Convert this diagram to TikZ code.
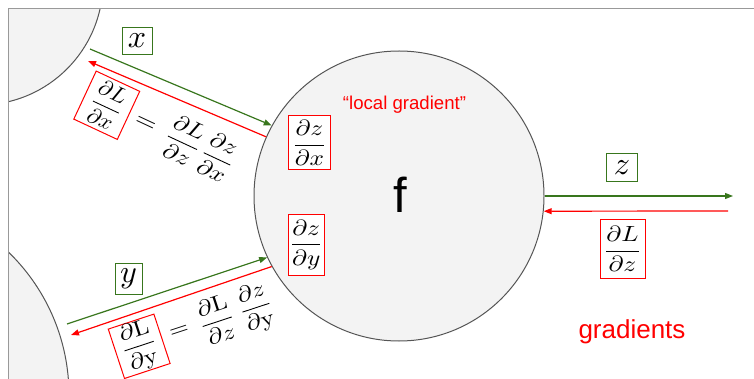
\documentclass[tikz,border=0pt]{standalone}
\usepackage{fontspec}
\newfontfamily\arial{Liberation Sans}
\usepackage{graphicx}
\usetikzlibrary{arrows.meta}
\definecolor{gr}{HTML}{38761D}
\definecolor{circfill}{HTML}{F3F3F3}
\definecolor{circline}{HTML}{555555}
\definecolor{framegray}{HTML}{999999}
% fraction scaled from 10pt: #1 = horizontal scale, #2 = vertical scale
\newcommand{\sfrac}[4]{\scalebox{#1}[#2]{$\displaystyle\frac{#3}{#4}$}}
\newcommand{\wfrac}[2]{\sfrac{2.53}{2.2}{#1}{#2}}
\newcommand{\nfrac}[2]{\sfrac{2.25}{2.2}{#1}{#2}}
\newcommand{\weq}[2]{\scalebox{#1}[#2]{$=$}}
\newcommand{\gl}[1]{\scalebox{3.2}{$#1$}}
\tikzset{
  circ/.style={circle, draw=circline, fill=circfill, line width=1pt, inner sep=0pt},
  redbox/.style={draw=red, fill=white, line width=1pt, inner sep=0pt},
  greenbox/.style={draw=gr, fill=white, line width=1pt, inner sep=0pt},
  fwd/.style={draw=gr, line width=1.2pt, -{Triangle[length=8pt,width=6pt]}},
  bwd/.style={draw=red, line width=1.2pt, -{Triangle[length=8pt,width=6pt]}},
  plain/.style={inner sep=0pt},
}
\begin{document}
\begin{tikzpicture}[x=1pt,y=-1pt]
\useasboundingbox (0,0) rectangle (754,379);
% partial neighbour circles, clipped to the frame
\begin{scope}
  \clip (8,9) rectangle (754,379);
  \node[circ, minimum size=246pt] (u1) at (-20,-18) {};
  \node[circ, minimum size=398pt] (u2) at (-130,395) {};
\end{scope}
\draw[framegray, line width=1pt] (8,379) -- (8,9) -- (754,9);

% main gate
\node[circ, minimum size=290pt] (f) at (399,196) {};
\node[plain, font=\arial\fontsize{49}{49}\selectfont] (flabel) at (400,195) {f};
\node[plain, font=\arial\fontsize{18.6}{20}\selectfont, text=red, anchor=base] (lg) at (404.5,110) {“local gradient”};
\node[redbox, minimum width=42pt, minimum height=54pt] (dzdx) at (309.5,143) {\wfrac{\partial z}{\partial x}};
\node[redbox, minimum width=36pt, minimum height=60pt] (dzdy) at (306.3,245) {\wfrac{\partial z}{\partial y}};

% output side
\node[greenbox, minimum width=31pt, minimum height=28pt] (z) at (622,168) {\gl{z}};
\node[redbox, minimum width=45pt, minimum height=58pt] (dLdz) at (622.5,249) {\wfrac{\partial L}{\partial z}};
\node[plain, font=\arial\fontsize{26}{30}\selectfont, text=red, anchor=base] (grads) at (632,338) {gradients};
\coordinate (zout) at (733,196);
\coordinate (zin) at (728,211);
\draw[fwd] (f.east) -- (zout);
\draw[bwd] (zin) -- (f.-6);

% input x
\node[greenbox, minimum width=30pt, minimum height=27pt] (x) at (137,41) {\gl{x}};
\coordinate (xs) at (90,49);
\coordinate (xe) at (88,61);
\draw[fwd] (xs) -- (f.151);
\draw[bwd] (f.156) -- (xe);
\begin{scope}[shift={(106.75,105.25)}, rotate=-25, transform shape]
  \node[redbox, minimum width=48pt, minimum height=53pt] (dLdx) at (0,0) {\nfrac{\partial L}{\partial x}};
  \node[plain] (eqa) at (43,1) {\weq{2.76}{2.4}};
  \node[plain] (dLdza) at (84.5,0) {\wfrac{\partial L}{\partial z}};
  \node[plain] (dzdxa) at (122.6,0) {\wfrac{\partial z}{\partial x}};
\end{scope}

% input y
\node[greenbox, minimum width=27pt, minimum height=31pt] (y) at (128.5,278.5) {\gl{y}};
\coordinate (ys) at (67,324);
\coordinate (ye) at (71,335);
\draw[fwd] (ys) -- (f.205);
\draw[bwd] (f.209) -- (ye);
\begin{scope}[shift={(139.2,346.3)}, rotate=18.2, transform shape]
  \node[redbox, minimum width=48pt, minimum height=52pt] (dLdy) at (0,0) {\wfrac{\partial \mathrm{L}}{\partial \mathrm{y}}};
  \node[plain] (eqb) at (42.7,-1) {\weq{2.53}{2.2}};
  \node[plain] (dLdzb) at (81.8,-1) {\wfrac{\partial \mathrm{L}}{\partial z}};
  \node[plain] (dzdyb) at (122.9,0) {\wfrac{\partial z}{\partial \mathrm{y}}};
\end{scope}
\end{tikzpicture}
\end{document}
